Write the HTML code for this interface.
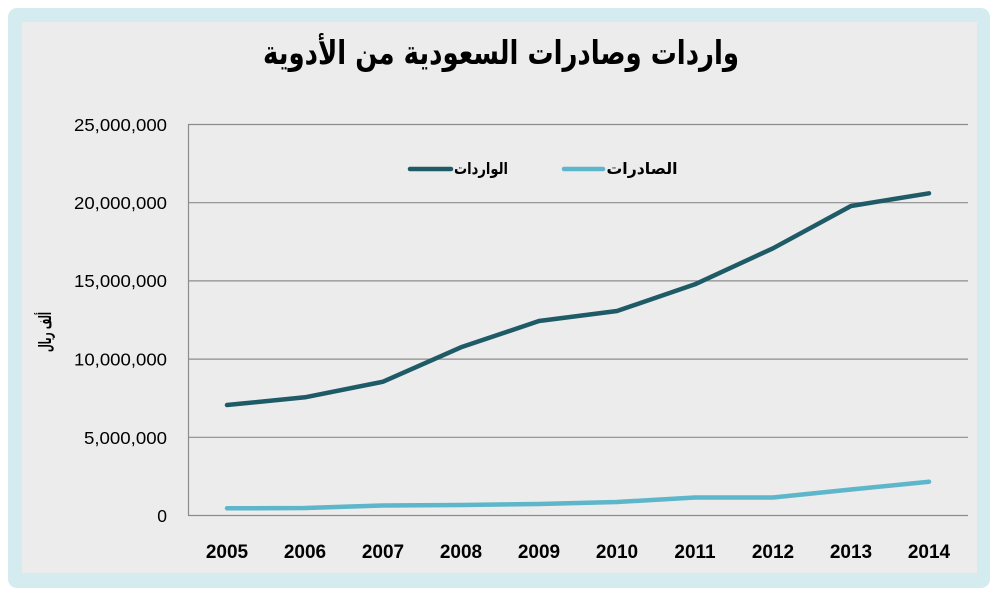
<!DOCTYPE html>
<html>
<head>
<meta charset="utf-8">
<style>
  html, body { margin:0; padding:0; background:#ffffff; }
  svg { display:block; }
</style>
</head>
<body>
<svg width="1000" height="592" viewBox="0 0 1000 592" xmlns="http://www.w3.org/2000/svg">
  <rect x="0" y="0" width="1000" height="592" fill="#ffffff"/>
  <rect x="8" y="8" width="982" height="580" rx="9" ry="9" fill="#d4ebf0"/>
  <rect x="22" y="22" width="955" height="551" fill="#ececec"/>

  <!-- Title -->
  <text x="501" y="64" text-anchor="middle" direction="rtl" font-family="'DejaVu Sans', 'Liberation Sans', sans-serif" font-weight="bold" font-size="33" fill="#000" textLength="476" lengthAdjust="spacingAndGlyphs">واردات وصادرات السعودية من الأدوية</text>

  <!-- Gridlines -->
  <g stroke="#8c8c8c" stroke-width="1.2" fill="none">
    <line x1="188" y1="124.5" x2="968" y2="124.5"/>
    <line x1="188" y1="202.7" x2="968" y2="202.7"/>
    <line x1="188" y1="280.9" x2="968" y2="280.9"/>
    <line x1="188" y1="359.1" x2="968" y2="359.1"/>
    <line x1="188" y1="437.3" x2="968" y2="437.3"/>
    <line x1="188" y1="515.5" x2="968" y2="515.5"/>
    <line x1="188.5" y1="124.5" x2="188.5" y2="515.5"/>
  </g>

  <!-- Y labels -->
  <g font-family="'Liberation Sans', sans-serif" font-size="17.5" fill="#000" text-anchor="end">
    <text x="167" y="131" textLength="93" lengthAdjust="spacingAndGlyphs">25,000,000</text>
    <text x="167" y="209" textLength="93" lengthAdjust="spacingAndGlyphs">20,000,000</text>
    <text x="167" y="287" textLength="93" lengthAdjust="spacingAndGlyphs">15,000,000</text>
    <text x="167" y="365.5" textLength="93" lengthAdjust="spacingAndGlyphs">10,000,000</text>
    <text x="167" y="444" textLength="83" lengthAdjust="spacingAndGlyphs">5,000,000</text>
    <text x="167" y="522">0</text>
  </g>

  <!-- Y axis title -->
  <text transform="translate(51,332) rotate(-90)" text-anchor="middle" font-family="'DejaVu Sans', sans-serif" font-weight="bold" font-size="17" fill="#000" direction="rtl" textLength="40" lengthAdjust="spacingAndGlyphs">ألف ريال</text>

  <!-- X labels -->
  <g font-family="'Liberation Sans', sans-serif" font-weight="bold" font-size="19" fill="#000" text-anchor="middle">
    <text x="227" y="558">2005</text>
    <text x="305" y="558">2006</text>
    <text x="383" y="558">2007</text>
    <text x="461" y="558">2008</text>
    <text x="539" y="558">2009</text>
    <text x="617" y="558">2010</text>
    <text x="695" y="558">2011</text>
    <text x="773" y="558">2012</text>
    <text x="851" y="558">2013</text>
    <text x="929" y="558">2014</text>
  </g>

  <!-- Series: exports (light) -->
  <polyline fill="none" stroke="#5db6c9" stroke-width="4.5" stroke-linecap="round" stroke-linejoin="round"
    points="227,508.3 305,508 383,505.5 461,505 539,504 617,502 695,497.5 773,497.5 851,489.5 929,481.7"/>

  <!-- Series: imports (dark) -->
  <polyline fill="none" stroke="#1e5b67" stroke-width="4.5" stroke-linecap="round" stroke-linejoin="round"
    points="227,405 305,397.3 383,381.7 461,347.3 539,321 617,311 695,284.3 773,248.3 851,206 929,193.3"/>

  <!-- Legend -->
  <line x1="410" y1="169" x2="451" y2="169" stroke="#1e5b67" stroke-width="4.5" stroke-linecap="round"/>
  <text x="481" y="174" text-anchor="middle" direction="rtl" font-family="'DejaVu Sans', sans-serif" font-weight="bold" font-size="16" fill="#000" textLength="54" lengthAdjust="spacingAndGlyphs">الواردات</text>
  <line x1="564" y1="169" x2="603" y2="169" stroke="#5db6c9" stroke-width="4.5" stroke-linecap="round"/>
  <text x="642" y="174" text-anchor="middle" direction="rtl" font-family="'DejaVu Sans', sans-serif" font-weight="bold" font-size="16" fill="#000" textLength="71" lengthAdjust="spacingAndGlyphs">الصادرات</text>
</svg>
</body>
</html>
